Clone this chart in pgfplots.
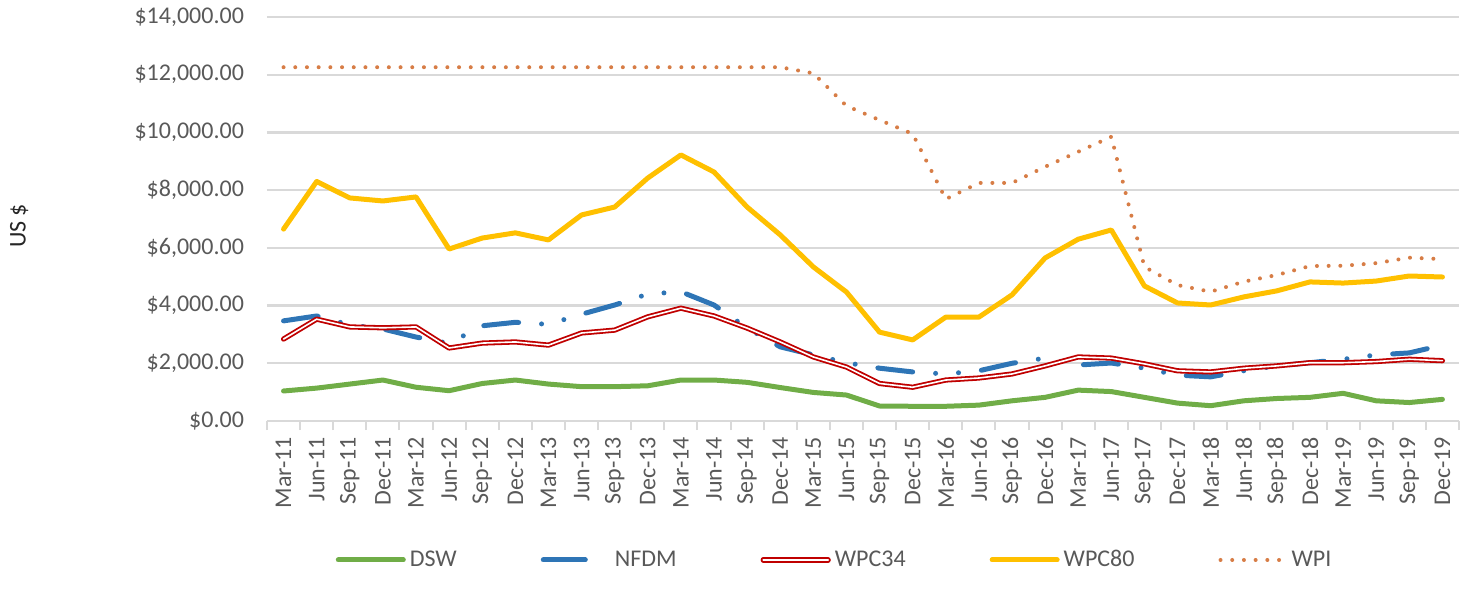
\documentclass[border=0pt]{standalone}
\usepackage{fontspec}
\setmainfont{Carlito}
\usepackage{pgfplots}
\usepackage{pgfplotstable}
\pgfplotsset{compat=1.18}
\definecolor{dswc}{HTML}{70AD47}
\definecolor{nfdmc}{HTML}{2E75B6}
\definecolor{wpcred}{HTML}{C00000}
\definecolor{wpcyel}{HTML}{FFC000}
\definecolor{wpic}{RGB}{215,125,70}
\definecolor{gridgray}{HTML}{D9D9D9}
\definecolor{textgray}{HTML}{595959}

\pgfplotstableread{
x dsw nfdm wpc34 wpc80 wpi
0 1040 3470 2840 6650 12260
1 1140 3640 3530 8300 12260
2 1280 3330 3260 7730 12260
3 1420 3190 3230 7625 12260
4 1170 2910 3260 7765 12260
5 1050 2690 2530 5960 12260
6 1300 3300 2700 6340 12260
7 1420 3420 2740 6520 12260
8 1280 3350 2630 6275 12260
9 1190 3700 3050 7140 12260
10 1190 4020 3150 7415 12260
11 1220 4400 3610 8420 12260
12 1420 4480 3910 9220 12260
13 1420 4020 3640 8630 12260
14 1340 3220 3220 7415 12260
15 1160 2570 2740 6450 12260
16 990 2290 2220 5340 12050
17 900 2020 1870 4470 10920
18 520 1830 1300 3080 10430
19 510 1700 1170 2810 9950
20 510 1630 1420 3600 7690
21 550 1740 1490 3600 8250
22 700 2000 1630 4370 8250
23 820 2180 1910 5650 8810
24 1070 1940 2220 6300 9330
25 1020 2010 2180 6620 9850
26 820 1830 1980 4680 5340
27 620 1590 1740 4090 4710
28 530 1530 1700 4020 4480
29 700 1740 1830 4300 4830
30 780 1910 1910 4510 5060
31 820 2020 2020 4820 5370
32 960 2140 2020 4780 5380
33 700 2290 2060 4850 5470
34 640 2360 2140 5025 5660
35 750 2630 2090 4990 5610
}\datatable

\begin{document}
\begin{tikzpicture}
\useasboundingbox (-133.5pt,-90pt) rectangle (600.5pt,210.5pt);
\begin{axis}[
  at={(0,0)}, anchor=south west,
  scale only axis, width=596pt, height=202pt,
  xmin=-0.5, xmax=35.5, ymin=0, ymax=14000,
  axis x line*=bottom, axis y line*=left,
  y axis line style={draw=none},
  x axis line style={draw=gridgray, line width=1pt},
  xtick={0,...,35},
  xticklabels={Mar-11,Jun-11,Sep-11,Dec-11,Mar-12,Jun-12,Sep-12,Dec-12,Mar-13,Jun-13,Sep-13,Dec-13,Mar-14,Jun-14,Sep-14,Dec-14,Mar-15,Jun-15,Sep-15,Dec-15,Mar-16,Jun-16,Sep-16,Dec-16,Mar-17,Jun-17,Sep-17,Dec-17,Mar-18,Jun-18,Sep-18,Dec-18,Mar-19,Jun-19,Sep-19,Dec-19},
  minor xtick={-0.5,0.5,...,35.5},
  major tick length=0pt, minor tick length=4.5pt, tick align=outside,
  major x tick style={draw=none},
  minor x tick style={draw=gridgray, line width=1pt},
  major y tick style={draw=none},
  ytick={0,2000,...,14000},
  ymajorgrids, grid style={draw=gridgray, line width=1.1pt},
  /pgf/number format/assume math mode=true,
  yticklabel={\$\pgfmathprintnumber[fixed,fixed zerofill,precision=2,1000 sep={,}]{\tick}},
  scaled y ticks=false,
  yticklabel style={font=\fontsize{12}{14}\selectfont, text=textgray},
  yticklabel shift=8pt,
  xticklabel style={rotate=90, anchor=east, font=\fontsize{12}{14}\selectfont, text=textgray},
  xticklabel shift=4.5pt,
  ylabel={US \$},
  ylabel style={at={(axis description cs:-0.208,0.483)}, anchor=center, font=\fontsize{12}{14}\selectfont, text=black!85},
  legend columns=5,
  legend style={at={(axis description cs:0.477,-0.344)}, anchor=center, draw=none, fill=none,
    font=\fontsize{12}{14}\selectfont, text=textgray,
    /tikz/every even column/.append style={column sep=40pt}},
  legend image code/.code={\draw[#1] (0pt,0pt) -- (32.5pt,0pt);},
  every axis plot/.append style={line join=round},
]
\addplot[dswc, line width=2.5pt, line cap=round] table[x=x,y=dsw]{\datatable};
\addlegendentry{DSW}
\addplot[nfdmc, line width=2.5pt, line cap=round, dash pattern=on 17.5pt off 11.5pt on 0pt off 11.5pt on 0pt off 11.5pt,
  legend image code/.code={\draw[nfdmc, line width=2.5pt, line cap=round, dash pattern=on 21pt off 30pt] (0pt,0pt) -- (32.5pt,0pt);}] table[x=x,y=nfdm]{\datatable};
\addlegendentry{NFDM}
\addplot[wpcred, line width=0.9pt, double=white, double distance=0.8pt, line cap=round] table[x=x,y=wpc34]{\datatable};
\addlegendentry{WPC34}
\addplot[wpcyel, line width=2.5pt, line cap=round] table[x=x,y=wpc80]{\datatable};
\addlegendentry{WPC80}
\addplot[wpic, line width=2pt, line cap=round, dash pattern=on 0pt off 5.85pt] table[x=x,y=wpi]{\datatable};
\addlegendentry{WPI}
\end{axis}
\end{tikzpicture}
\end{document}
